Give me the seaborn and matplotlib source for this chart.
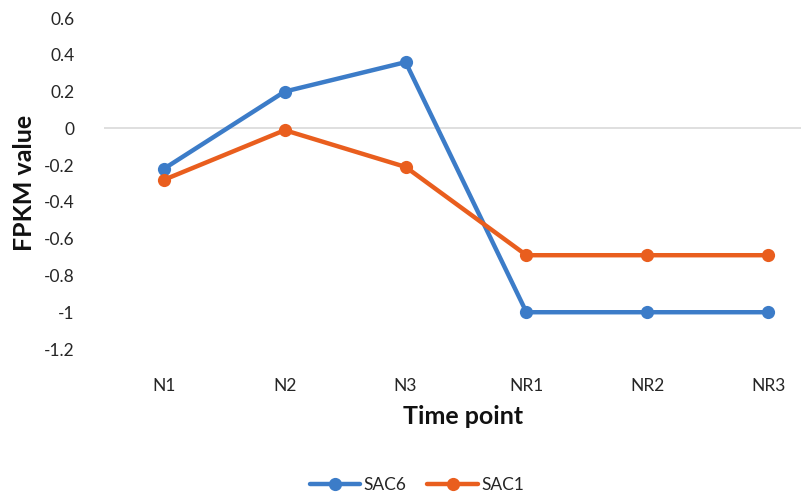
import matplotlib
matplotlib.use("Agg")
import matplotlib.pyplot as plt
import seaborn as sns
import pandas as pd

# Data
time_points = ["N1", "N2", "N3", "NR1", "NR2", "NR3"]
sac6 = [-0.22, 0.20, 0.36, -1.0, -1.0, -1.0]
sac1 = [-0.28, -0.01, -0.21, -0.69, -0.69, -0.69]
series_names = ["SAC6", "SAC1"]
y_ticks = [0.6, 0.4, 0.2, 0, -0.2, -0.4, -0.6, -0.8, -1, -1.2]
y_tick_labels = ["0.6", "0.4", "0.2", "0", "-0.2", "-0.4", "-0.6", "-0.8", "-1", "-1.2"]

df = pd.DataFrame({
    "Time point": time_points * 2,
    "value": sac6 + sac1,
    "gene": [series_names[0]] * len(time_points) + [series_names[1]] * len(time_points),
})

sns.set_style("white")
plt.rcParams["font.family"] = ["Lato", "DejaVu Sans"]

W, H = 801, 495
fig = plt.figure(figsize=(W / 100, H / 100), dpi=100)
left, right_edge, top, bottom = 103.5, 828.5, 18, 349
ax = fig.add_axes([left / W, 1 - bottom / H, (right_edge - left) / W, (bottom - top) / H])

palette = {"SAC6": "#3C7CC8", "SAC1": "#E95E1E"}
sns.lineplot(data=df, x="Time point", y="value", hue="gene", palette=palette,
             marker="o", markersize=9.5, markeredgewidth=0, linewidth=3.2,
             sort=False, ax=ax, legend=True)

ax.axhline(0, color="#D9D9D9", linewidth=1.2, zorder=0)
ax.set_xlim(-0.5, len(time_points) - 0.5)
ax.set_ylim(-1.2, 0.6)
ax.set_yticks(y_ticks)
ax.set_yticklabels(y_tick_labels)
for s in ax.spines.values():
    s.set_visible(False)
ax.grid(False)
ax.tick_params(axis="y", length=0, pad=21, labelsize=12.5, labelcolor="#262626")
ax.tick_params(axis="x", length=0, pad=21, labelsize=12.5, labelcolor="#262626")
ax.set_xlabel("")
ax.set_ylabel("")

fig.text(25 / W, 1 - 183 / H, "FPKM value", rotation=90, ha="center", va="center",
         fontsize=18, fontweight="bold", color="#111111")
fig.text(463 / W, 1 - 417 / H, "Time point", ha="center", va="center",
         fontsize=18, fontweight="bold", color="#111111")

handles, labels = ax.get_legend_handles_labels()
ax.legend_.remove()
fig.legend(handles, labels, loc="center", bbox_to_anchor=(417 / W, 1 - 485 / H),
           ncol=2, frameon=False, fontsize=12.5, handlelength=2.9, handletextpad=0.2,
           columnspacing=1.2, labelcolor="#262626")

fig.savefig("out.png", dpi=100)
